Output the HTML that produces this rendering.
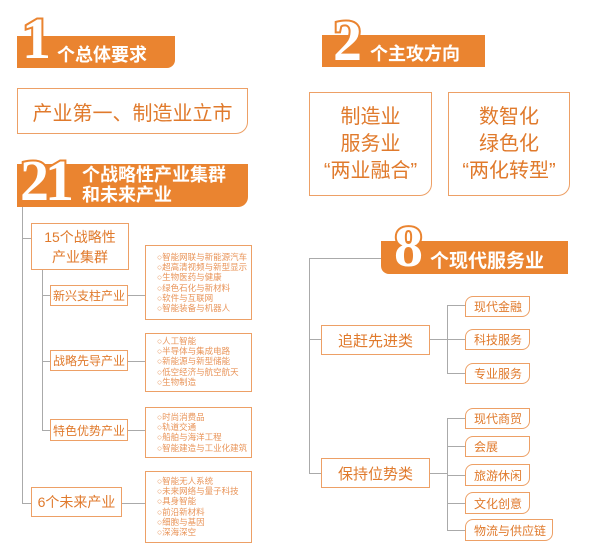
<!DOCTYPE html>
<html><head><meta charset="utf-8"><style>
*{margin:0;padding:0;box-sizing:border-box}
body{width:600px;height:543px;background:#fff;position:relative;overflow:hidden;font-family:"Liberation Sans","Noto Sans CJK SC",sans-serif;color:#e07a2c}
.a{position:absolute}
.ban{position:absolute;background:#ea8430;color:#fff;font-weight:bold;border-bottom-right-radius:8px}
.num{position:absolute;font-family:"Liberation Serif",serif;font-weight:bold;color:#fff;-webkit-text-stroke:4px #ea8430;paint-order:stroke fill;line-height:1}
.bx{position:absolute;border:1px solid #eda066;display:flex;align-items:center;justify-content:center;text-align:center;background:#fff;white-space:nowrap}
.ln{position:absolute;background:#aaa}
.lst{position:absolute;border:1px solid #eda066;font-size:8.5px;line-height:10.2px;padding:6px 0 0 11px;color:#e9955a;background:#fff;white-space:nowrap}
.it{position:absolute;border:1px solid #eda066;border-radius:8px 0 8px 0;font-size:12px;display:flex;align-items:center;padding-left:8px;background:#fff;white-space:nowrap}
</style></head><body>
<!-- section 1 -->
<div class="ban" style="left:17px;top:36px;width:158px;height:32px"></div>
<div class="num" style="left:22px;top:10px;font-size:58px">1</div>
<div class="a" style="left:57px;top:41px;font-size:18px;font-weight:bold;color:#fff">个总体要求</div>
<div class="bx" style="left:17px;top:88px;width:231px;height:46px;border-bottom-right-radius:12px;font-size:20px">产业第一、制造业立市</div>
<!-- section 21 -->
<div class="ban" style="left:17px;top:164px;width:231px;height:43px;border-bottom-right-radius:10px"></div>
<div class="num" style="left:20px;top:152px;font-size:58px;letter-spacing:-4px">21</div>
<div class="a" style="left:82px;top:165px;font-size:18px;line-height:20px;font-weight:bold;color:#fff">个战略性产业集群<br>和未来产业</div>
<div class="ln" style="left:22px;top:207px;width:1px;height:297px"></div>
<div class="ln" style="left:22px;top:238px;width:10px;height:1px"></div>
<div class="ln" style="left:22px;top:503px;width:10px;height:1px"></div>
<div class="bx" style="left:31px;top:223px;width:98px;height:47px;font-size:14px;line-height:20px">15个战略性<br>产业集群</div>
<div class="ln" style="left:42px;top:270px;width:1px;height:161px"></div>
<div class="ln" style="left:42px;top:295px;width:9px;height:1px"></div>
<div class="ln" style="left:42px;top:361px;width:9px;height:1px"></div>
<div class="ln" style="left:42px;top:430px;width:9px;height:1px"></div>
<div class="bx" style="left:50px;top:285px;width:78px;height:21px;font-size:12px">新兴支柱产业</div>
<div class="bx" style="left:50px;top:350px;width:78px;height:21px;font-size:12px">战略先导产业</div>
<div class="bx" style="left:50px;top:419px;width:78px;height:22px;font-size:12px">特色优势产业</div>
<div class="bx" style="left:31px;top:487px;width:91px;height:30px;font-size:14px">6个未来产业</div>
<div class="ln" style="left:128px;top:295px;width:17px;height:1px"></div>
<div class="ln" style="left:128px;top:361px;width:17px;height:1px"></div>
<div class="ln" style="left:128px;top:430px;width:17px;height:1px"></div>
<div class="ln" style="left:122px;top:503px;width:23px;height:1px"></div>
<div class="lst" style="left:145px;top:245px;width:107px;height:75px">○智能网联与新能源汽车<br>○超高清视频与新型显示<br>○生物医药与健康<br>○绿色石化与新材料<br>○软件与互联网<br>○智能装备与机器人</div>
<div class="lst" style="left:145px;top:333px;width:107px;height:59px;padding-top:2px">○人工智能<br>○半导体与集成电路<br>○新能源与新型储能<br>○低空经济与航空航天<br>○生物制造</div>
<div class="lst" style="left:145px;top:407px;width:107px;height:51px;padding-top:4px">○时尚消费品<br>○轨道交通<br>○船舶与海洋工程<br>○智能建造与工业化建筑</div>
<div class="lst" style="left:145px;top:471px;width:107px;height:72px;padding-top:4px">○智能无人系统<br>○未来网络与量子科技<br>○具身智能<br>○前沿新材料<br>○细胞与基因<br>○深海深空</div>
<!-- section 2 -->
<div class="ban" style="left:322px;top:35px;width:163px;height:32px;border-bottom-right-radius:0"></div>
<div class="num" style="left:333px;top:12px;font-size:58px">2</div>
<div class="a" style="left:370px;top:40px;font-size:18px;font-weight:bold;color:#fff">个主攻方向</div>
<div class="bx" style="left:309px;top:92px;width:123px;height:104px;border-bottom-right-radius:12px;font-size:20px;line-height:27px">制造业<br>服务业<br>“两业融合”</div>
<div class="bx" style="left:448px;top:92px;width:122px;height:104px;border-bottom-right-radius:12px;font-size:20px;line-height:27px">数智化<br>绿色化<br>“两化转型”</div>
<!-- section 8 -->
<div class="ln" style="left:309px;top:258px;width:73px;height:1px"></div>
<div class="ln" style="left:309px;top:258px;width:1px;height:216px"></div>
<div class="ban" style="left:381px;top:241px;width:187px;height:33px;border-radius:0 0 0 8px"></div>
<div class="num" style="left:394px;top:218px;font-size:58px">8</div>
<div class="a" style="left:430px;top:246px;font-size:19px;font-weight:bold;color:#fff">个现代服务业</div>
<div class="ln" style="left:309px;top:339px;width:12px;height:1px"></div>
<div class="ln" style="left:309px;top:473px;width:12px;height:1px"></div>
<div class="bx" style="left:321px;top:325px;width:109px;height:30px;font-size:15px">追赶先进类</div>
<div class="bx" style="left:321px;top:458px;width:109px;height:30px;font-size:15px">保持位势类</div>
<div class="ln" style="left:430px;top:339px;width:17px;height:1px"></div>
<div class="ln" style="left:430px;top:473px;width:17px;height:1px"></div>
<div class="ln" style="left:447px;top:305px;width:1px;height:69px"></div>
<div class="ln" style="left:447px;top:418px;width:1px;height:113px"></div>
<div class="ln" style="left:447px;top:305px;width:18px;height:1px"></div>
<div class="ln" style="left:447px;top:339px;width:18px;height:1px"></div>
<div class="ln" style="left:447px;top:373px;width:18px;height:1px"></div>
<div class="ln" style="left:447px;top:418px;width:18px;height:1px"></div>
<div class="ln" style="left:447px;top:446px;width:18px;height:1px"></div>
<div class="ln" style="left:447px;top:475px;width:18px;height:1px"></div>
<div class="ln" style="left:447px;top:503px;width:18px;height:1px"></div>
<div class="ln" style="left:447px;top:530px;width:18px;height:1px"></div>
<div class="it" style="left:465px;top:296px;width:65px;height:21px">现代金融</div>
<div class="it" style="left:465px;top:329px;width:65px;height:21px">科技服务</div>
<div class="it" style="left:465px;top:363px;width:65px;height:21px">专业服务</div>
<div class="it" style="left:465px;top:408px;width:65px;height:21px">现代商贸</div>
<div class="it" style="left:465px;top:436px;width:65px;height:21px">会展</div>
<div class="it" style="left:465px;top:464px;width:65px;height:22px">旅游休闲</div>
<div class="it" style="left:465px;top:492px;width:65px;height:22px">文化创意</div>
<div class="it" style="left:465px;top:519px;width:88px;height:22px">物流与供应链</div>
</body></html>
